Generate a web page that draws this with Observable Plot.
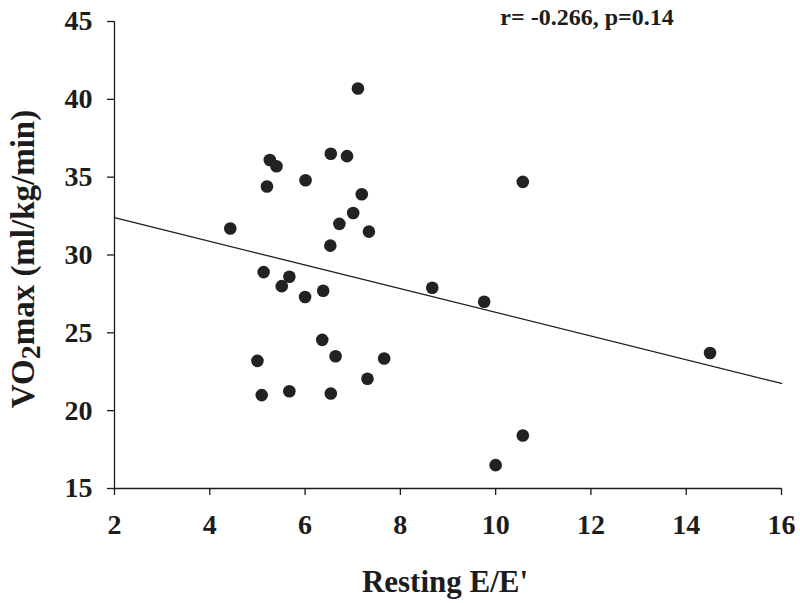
<!DOCTYPE html>
<html>
<head>
<meta charset="utf-8">
<script src="https://cdn.jsdelivr.net/npm/d3@7"></script>
<script src="https://cdn.jsdelivr.net/npm/@observablehq/plot@0.6"></script>
<style>
  html, body { margin: 0; padding: 0; background: #fff; }
  #chart svg { display: block; }
</style>
</head>
<body>
<div id="chart"></div>
<script>
// Resting E/E' (x) and VO2max in ml/kg/min (y)
const restingEE = [4.43, 5.26, 5.40, 5.20, 6.01, 7.11, 6.54, 6.88, 7.19, 7.01, 6.72, 7.34, 6.53,
  5.13, 5.67, 5.51, 6.00, 6.38, 6.36, 6.64, 5.00, 7.66, 7.31, 5.09, 5.67, 6.54,
  10.57, 8.67, 9.76, 14.50, 10.57, 10.00];
const vo2max = [31.7, 36.1, 35.7, 34.4, 34.8, 40.7, 36.5, 36.35, 33.9, 32.7, 32.0, 31.5, 30.6,
  28.9, 28.6, 28.0, 27.3, 27.7, 24.55, 23.5, 23.2, 23.35, 22.05, 21.0, 21.25, 21.1,
  34.7, 27.9, 27.0, 23.7, 18.4, 16.5];
// fitted regression line end points
const fitX = [2, 16];
const fitY = [32.4, 21.75];
const xTicks = [2, 4, 6, 8, 10, 12, 14, 16];
const yTicks = [15, 20, 25, 30, 35, 40, 45];
const statsText = "r= -0.266, p=0.14";
const xLabel = "Resting E/E'";
const yLabelParts = ["VO", "2", "max (ml/kg/min)"];

const points = restingEE.map((x, i) => ({x, y: vo2max[i]}));
const fit = fitX.map((x, i) => ({x, y: fitY[i]}));

const W = 800, H = 603;
const mL = 114, mR = 19, mT = 21, mB = 115;
const ink = "#1c1c1c";
const serif = "'Liberation Serif', 'Times New Roman', serif";

const svg = Plot.plot({
  width: W,
  height: H,
  marginLeft: mL,
  marginRight: mR,
  marginTop: mT,
  marginBottom: mB,
  style: {fontFamily: serif, fontWeight: "bold", color: ink, background: "#fff"},
  x: {domain: [2, 16]},
  y: {domain: [15, 45]},
  marks: [
    Plot.ruleX([2], {stroke: ink, strokeWidth: 1.3}),
    Plot.ruleY([15], {stroke: ink, strokeWidth: 1.6}),
    Plot.axisX({ticks: xTicks, tickSize: 7, tickPadding: 19, fontSize: 28, label: null, stroke: ink, strokeWidth: 1.3}),
    Plot.axisY({ticks: yTicks, tickSize: 7, tickPadding: 15, fontSize: 28, label: null, stroke: ink, strokeWidth: 1.3}),
    Plot.line(fit, {x: "x", y: "y", stroke: ink, strokeWidth: 1.3}),
    Plot.dot(points, {x: "x", y: "y", r: 6.3, fill: "#222", stroke: "none"})
  ]
});

const s = d3.select(svg);
// statistics annotation
s.append("text")
  .attr("x", 587).attr("y", 25)
  .attr("text-anchor", "middle")
  .attr("font-family", serif).attr("font-weight", "bold")
  .attr("font-size", 24).attr("fill", ink)
  .text(statsText);
// x axis title
s.append("text")
  .attr("x", 445).attr("y", 592)
  .attr("text-anchor", "middle")
  .attr("font-family", serif).attr("font-weight", "bold")
  .attr("font-size", 31).attr("fill", ink)
  .text(xLabel);
// y axis title with subscript
const yl = s.append("text")
  .attr("transform", "translate(34,259) rotate(-90)")
  .attr("text-anchor", "middle")
  .attr("font-family", serif).attr("font-weight", "bold")
  .attr("font-size", 33).attr("fill", ink);
yl.append("tspan").text(yLabelParts[0]);
yl.append("tspan").attr("dy", "0.22em").attr("font-size", 28).text(yLabelParts[1]);
yl.append("tspan").attr("dy", "-0.19em").text(yLabelParts[2]);

document.getElementById("chart").appendChild(svg);
</script>
</body>
</html>
